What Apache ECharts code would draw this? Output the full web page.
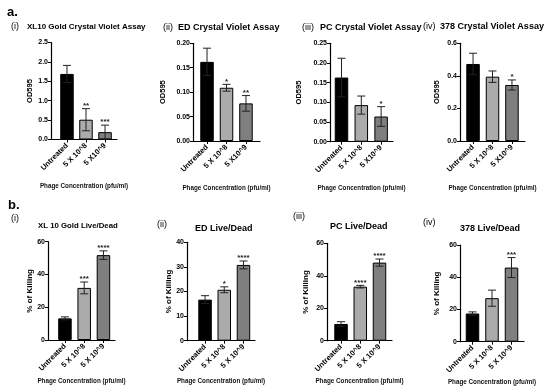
<!DOCTYPE html>
<html>
<head>
<meta charset="utf-8">
<script src="https://cdn.jsdelivr.net/npm/echarts@6/dist/echarts.min.js"></script>
<style>
html,body{margin:0;padding:0;background:#fff;}
#chart{width:550px;height:392px;}
</style>
</head>
<body>
<div id="chart"></div>
<script>
// ---- Data ----
const catsA = ['Untreated', '5 X 10^8', '5 X10^9'];
const catsB = ['Untreated', '5 X 10^8', '5 X 10^9'];

const xl10CvMean = [1.69, 0.51, 0.19];
const xl10CvSd   = [0.22, 0.285, 0.18];
const xl10CvSig  = ['', '**', '***'];

const edCvMean = [0.162, 0.109, 0.077];
const edCvSd   = [0.028, 0.007, 0.016];
const edCvSig  = ['', '*', '**'];

const pcCvMean = [0.163, 0.093, 0.064];
const pcCvSd   = [0.049, 0.023, 0.025];
const pcCvSig  = ['', '', '*'];

const s378CvMean = [0.473, 0.395, 0.344];
const s378CvSd   = [0.066, 0.035, 0.031];
const s378CvSig  = ['', '', '*'];

const xl10LdMean = [13.2, 31.8, 51.8];
const xl10LdSd   = [0.9, 3.6, 2.6];
const xl10LdSig  = ['', '***', '****'];

const edLdMean = [16.7, 20.7, 30.8];
const edLdSd   = [1.6, 1.2, 1.6];
const edLdSig  = ['', '*', '****'];

const pcLdMean = [10.3, 33.3, 48.1];
const pcLdSd   = [1.4, 0.8, 2.2];
const pcLdSig  = ['', '****', '****'];

const s378LdMean = [17.5, 27.0, 46.0];
const s378LdSd   = [1.0, 5.0, 6.2];
const s378LdSig  = ['', '', '***'];

const yTicksA = [[0, 2.5, 0.5, 1], [0, 0.2, 0.05, 2], [0, 0.25, 0.05, 2], [0, 0.6, 0.2, 1]];
const yTicksB = [[0, 60, 20, 0], [0, 40, 10, 0], [0, 60, 20, 0], [0, 60, 20, 0]];

// ---- Layout / style ----
const FF = 'Liberation Sans, Arial, Helvetica, sans-serif';
const barColors = ['#000000', '#ababab', '#7f7f7f'];

const panels = [
  {cats: catsA, mean: xl10CvMean, sd: xl10CvSd, sig: xl10CvSig, y: yTicksA[0], yName: 'OD595',
   grid: {left: 51, top: 42.5, width: 66, height: 97}, xr: [-0.84, 2.63], nameGap: 17, xNameGap: 44},
  {cats: catsA, mean: edCvMean, sd: edCvSd, sig: edCvSig, y: yTicksA[1], yName: 'OD595',
   grid: {left: 193, top: 43.3, width: 67, height: 97.7}, xr: [-0.72, 2.72], nameGap: 26.5, xNameGap: 44},
  {cats: catsA, mean: pcCvMean, sd: pcCvSd, sig: pcCvSig, y: yTicksA[2], yName: 'OD595',
   grid: {left: 330, top: 43.3, width: 63, height: 98.4}, xr: [-0.58, 2.6], nameGap: 27.5, xNameGap: 44},
  {cats: catsA, mean: s378CvMean, sd: s378CvSd, sig: s378CvSig, y: yTicksA[3], yName: 'OD595',
   grid: {left: 460, top: 43.3, width: 65, height: 97.7}, xr: [-0.67, 2.67], nameGap: 19.5, xNameGap: 44},
  {cats: catsB, mean: xl10LdMean, sd: xl10LdSd, sig: xl10LdSig, y: yTicksB[0], yName: '% of Killing',
   grid: {left: 48, top: 241.7, width: 67, height: 98.3}, xr: [-0.88, 2.6], nameGap: 12.5, xNameGap: 38},
  {cats: catsB, mean: edLdMean, sd: edLdSd, sig: edLdSig, y: yTicksB[1], yName: '% of Killing',
   grid: {left: 187, top: 242.3, width: 68, height: 98.4}, xr: [-0.94, 2.6], nameGap: 12.5, xNameGap: 38},
  {cats: catsB, mean: pcLdMean, sd: pcLdSd, sig: pcLdSig, y: yTicksB[2], yName: '% of Killing',
   grid: {left: 327, top: 243.3, width: 65, height: 97.4}, xr: [-0.73, 2.65], nameGap: 17, xNameGap: 38},
  {cats: catsB, mean: s378LdMean, sd: s378LdSd, sig: s378LdSig, y: yTicksB[3], yName: '% of Killing',
   grid: {left: 460, top: 245, width: 64, height: 96.7}, xr: [-0.64, 2.64], nameGap: 19.5, xNameGap: 38}
];

const texts = [
  ['a.', 7, 12, 13, 'bold'],
  ['(i)', 11, 27, 9, 'normal'], ['XL10 Gold Crystal Violet Assay', 27, 27, 8, 'bold'],
  ['(ii)', 163, 28, 9, 'normal'], ['ED Crystal Violet Assay', 178, 28, 9, 'bold'],
  ['(iii)', 302, 28, 9, 'normal'], ['PC Crystal Violet Assay', 320, 28, 9, 'bold'],
  ['(iv)', 423, 27, 9, 'normal'], ['378 Crystal Violet Assay', 440, 27, 9, 'bold'],
  ['b.', 8, 205, 13, 'bold'],
  ['(i)', 11, 219, 9, 'normal'], ['XL 10 Gold Live/Dead', 38, 226, 7.8, 'bold'],
  ['(ii)', 157, 225, 9, 'normal'], ['ED Live/Dead', 195, 229, 9, 'bold'],
  ['(iii)', 293, 217, 9, 'normal'], ['PC Live/Dead', 330, 227, 9, 'bold'],
  ['(iv)', 423, 223, 9, 'normal'], ['378 Live/Dead', 460, 229, 9, 'bold']
];

const grid = [], xAxis = [], yAxis = [], series = [];
panels.forEach((p, i) => {
  grid.push(Object.assign({containLabel: false}, p.grid));
  xAxis.push({
    type: 'value', gridIndex: i, min: p.xr[0], max: p.xr[1],
    name: 'Phage Concentration (pfu/ml)', nameLocation: 'middle', nameGap: p.xNameGap,
    nameTextStyle: {fontFamily: FF, fontSize: 6.3, fontWeight: 'bold', color: '#111'},
    axisLine: {show: true, onZero: false, lineStyle: {color: '#000', width: 1.2}},
    axisTick: {show: true, length: 3, customValues: [0, 1, 2], lineStyle: {color: '#000', width: 1}},
    axisLabel: {show: true, customValues: [0, 1, 2], rotate: 45, margin: 5,
      fontFamily: FF, fontSize: 7.5, fontWeight: 'bold', color: '#000',
      formatter: v => p.cats[Math.round(v)]},
    splitLine: {show: false}
  });
  yAxis.push({
    type: 'value', gridIndex: i, min: p.y[0], max: p.y[1], interval: p.y[2],
    name: p.yName, nameLocation: 'middle', nameGap: p.nameGap,
    nameTextStyle: {fontFamily: FF, fontSize: i >= 4 ? 8 : 7.5, fontWeight: 'bold', color: '#000'},
    axisLine: {show: true, onZero: false, lineStyle: {color: '#000', width: 1.2}},
    axisTick: {show: true, length: 3, lineStyle: {color: '#000', width: 1}},
    axisLabel: {fontFamily: FF, fontSize: 7, fontWeight: 'bold', color: '#000', margin: 3,
      formatter: v => v.toFixed(p.y[3])},
    splitLine: {show: false}
  });
  series.push({
    type: 'bar', xAxisIndex: i, yAxisIndex: i, barWidth: 13.5, silent: true,
    data: p.mean.map((m, k) => ({value: [k, m], itemStyle: {color: barColors[k], borderColor: '#000', borderWidth: 1}})),
    z: 2
  });
  series.push({
    type: 'custom', xAxisIndex: i, yAxisIndex: i, silent: true, z: 5,
    data: p.mean.map((m, k) => [k, m, p.sd[k]]),
    renderItem: (params, api) => {
      const x = api.value(0), m = api.value(1), s = api.value(2);
      const top = api.coord([x, m + s]);
      const bot = api.coord([x, Math.max(0, m - s)]);
      const h = 4;
      const st = {stroke: '#222', lineWidth: 1};
      return {type: 'group', children: [
        {type: 'line', shape: {x1: top[0], y1: top[1], x2: bot[0], y2: bot[1]}, style: st},
        {type: 'line', shape: {x1: top[0] - h, y1: top[1], x2: top[0] + h, y2: top[1]}, style: st},
        {type: 'line', shape: {x1: bot[0] - h, y1: bot[1], x2: bot[0] + h, y2: bot[1]}, style: st},
        {type: 'text', style: {text: p.sig[params.dataIndex], x: top[0], y: top[1] + 1,
          align: 'center', verticalAlign: 'bottom', font: 'bold 8px ' + FF, fill: '#222'}}
      ]};
    }
  });
});

const title = texts.map(t => ({
  text: t[0], left: t[1], top: t[2] - t[3] * 0.6, padding: 0,
  textStyle: {fontFamily: FF, fontSize: t[3], fontWeight: t[4], color: '#000', lineHeight: t[3] * 1.2}
}));

const chart = echarts.init(document.getElementById('chart'), null, {renderer: 'canvas'});
chart.setOption({animation: false, backgroundColor: '#fff', title, grid, xAxis, yAxis, series});
</script>
</body>
</html>
